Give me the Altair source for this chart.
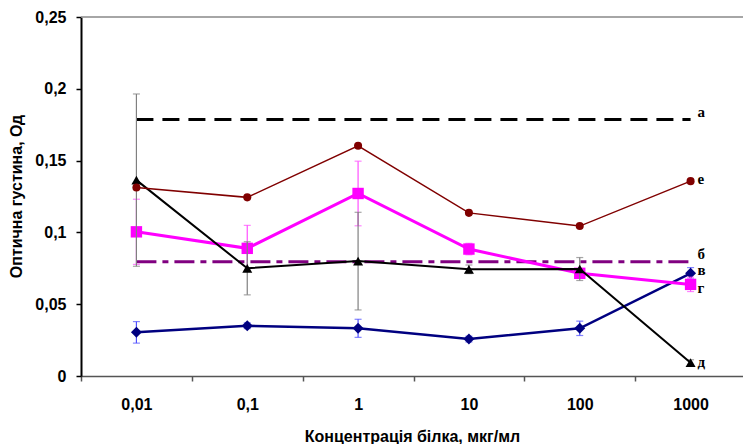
import altair as alt
import pandas as pd

# ---- data ----
categories = ["0,01", "0,1", "1", "10", "100", "1000"]

v_vals = [0.0304, 0.0350, 0.0332, 0.0257, 0.0332, 0.0715]
v_err = [0.0075, 0.002, 0.0063, 0.002, 0.005, 0.004]

g_vals = [0.1004, 0.0889, 0.1271, 0.0884, 0.0715, 0.0638]
g_err = [0.0227, 0.016, 0.0225, 0.004, 0.003, 0.005]

d_vals = [0.1364, 0.0750, 0.0800, 0.0743, 0.0745, 0.0093]
d_err = [0.060, 0.0185, 0.034, 0.003, 0.008, 0.002]

e_vals = [0.1313, 0.1244, 0.1603, 0.1136, 0.1044, 0.1357]

a_level = 0.1786
b_level = 0.0795

y_ticks = [0, 0.05, 0.1, 0.15, 0.2, 0.25]
label_texts = ["а", "б", "в", "г", "д", "е"]

FONT = "Liberation Sans"
SERIF = "Liberation Serif"
W, H = 662, 359

# ---- tables ----
def series_df(vals, errs=None):
    d = pd.DataFrame({"cat": categories, "val": vals})
    if errs is not None:
        d["lo"] = [v - e for v, e in zip(vals, errs)]
        d["hi"] = [v + e for v, e in zip(vals, errs)]
    return d

def level_df(level):
    return pd.DataFrame({"cat": [categories[0], categories[-1]], "val": [level, level]})

XAXIS = alt.Axis(
    title="Концентрація білка, мкг/мл", labelAngle=0, tickBand="extent",
    domainColor="#555555", domainWidth=1.5, tickColor="#555555", tickWidth=1.5,
    tickSize=5, labelFont=FONT, labelFontSize=16, labelFontWeight="bold",
    labelColor="black", labelPadding=15, titleFont=FONT, titleFontSize=16,
    titleFontWeight="bold", titleColor="black", titleX=331, titleY=60,
    titleBaseline="middle", grid=False,
)
YAXIS = alt.Axis(
    values=y_ticks, labelExpr="replace(format(datum.value, '~g'), '.', ',')",
    grid=False, domainColor="black", domainWidth=2, tickColor="black",
    tickWidth=1.5, tickSize=5, labelFont=FONT, labelFontSize=16,
    labelFontWeight="bold", labelColor="black", labelPadding=10,
    titleFont=FONT, titleFontSize=16, titleFontWeight="bold", titleColor="black",
    titleX=-65, titleY=179, titleBaseline="middle",
)
YTITLE = "Оптична густина, Од"

def X():
    return alt.X("cat:N", sort=categories, title="Концентрація білка, мкг/мл",
                 scale=alt.Scale(type="band", paddingInner=0, paddingOuter=0, range=[0, 665]),
                 axis=XAXIS)

def Y(field="val"):
    return alt.Y(f"{field}:Q", title=YTITLE,
                 scale=alt.Scale(domain=[0, 0.25], nice=False, zero=True), axis=YAXIS)

layers = []

# frame top line
top_df = pd.DataFrame({"cat": [categories[0]], "val": [y_ticks[-1]]})
layers.append(alt.Chart(top_df).mark_rule(color="#888888", strokeWidth=1.5).encode(
    y=Y(), x=alt.value(0), x2=alt.value(W)))

# reference levels а, б
layers.append(alt.Chart(level_df(a_level)).mark_line(
    color="black", strokeWidth=3, strokeDash=[17, 9]).encode(x=X(), y=Y()))
layers.append(alt.Chart(level_df(b_level)).mark_line(
    color="#800080", strokeWidth=3, strokeDash=[20, 6, 6, 6]).encode(x=X(), y=Y()))

def add_series(vals, errs, color, err_color, width, shape, size):
    df = series_df(vals, errs)
    if errs is not None:
        layers.append(alt.Chart(df).mark_rule(color=err_color, strokeWidth=1.2).encode(
            x=X(), y=Y("lo"), y2=alt.Y2("hi:Q")))
        layers.append(alt.Chart(df).mark_tick(color=err_color, thickness=1.2, size=7).encode(
            x=X(), y=Y("lo")))
        layers.append(alt.Chart(df).mark_tick(color=err_color, thickness=1.2, size=7).encode(
            x=X(), y=Y("hi")))
    layers.append(alt.Chart(df).mark_line(color=color, strokeWidth=width).encode(x=X(), y=Y()))
    layers.append(alt.Chart(df).mark_point(
        color=color, filled=True, opacity=1, shape=shape, size=size).encode(x=X(), y=Y()))

add_series(v_vals, v_err, "#000080", "#5050ff", 2.5, "diamond", 120)
add_series(g_vals, g_err, "#ff00ff", "#ff50ff", 3, "square", 130)
add_series(d_vals, d_err, "black", "#808080", 2, "triangle-up", 100)
add_series(e_vals, None, "#800000", None, 1.5, "circle", 65)

# end labels
label_values = [a_level, b_level, v_vals[-1], g_vals[-1], d_vals[-1], e_vals[-1]]
label_dy = [-2.6, -3, 1.5, 9, 4, 3]
for txt, val, dy in zip(label_texts, label_values, label_dy):
    ldf = pd.DataFrame({"cat": [categories[-1]], "val": [val], "txt": [txt]})
    layers.append(alt.Chart(ldf).mark_text(
        align="left", baseline="alphabetic", dx=7, dy=dy, font=SERIF,
        fontSize=15, fontWeight="bold", color="black").encode(
        x=X(), y=Y(), text="txt:N"))

chart = alt.layer(*layers).properties(
    width=W, height=H,
    autosize=alt.AutoSizeParams(type="none"),
    padding={"left": 81, "top": 17, "right": 0, "bottom": 68},
    background="white",
).configure_view(stroke=None)

chart.save("out.html", embed_options={"renderer": "svg", "actions": False})
